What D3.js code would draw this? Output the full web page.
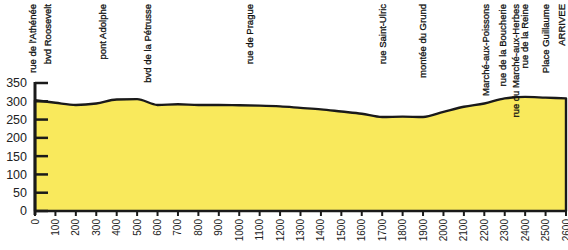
<!DOCTYPE html>
<meta charset="utf-8">
<head>
    <script src="https://d3js.org/d3.v7.min.js"></script>
    <style>
    body { margin: 0; background: white; }
    svg { display: block; background: white; }
    text { font-family: "Liberation Sans", Arial, sans-serif; fill: #222; }
    .street { font-size: 9.5px; fill: #111; stroke: #111; stroke-width: 0.3px; }
    .xlab { font-size: 10px; }
    .ylab { font-size: 12.5px; }
    </style>
</head>
<body>
    <svg id="svgid" width="568" height="250"></svg>
    <script>
        // distance along the course (m) and altitude (m)
        var distances = [0,100,200,300,400,500,600,700,800,900,1000,1100,1200,1300,
                         1400,1500,1600,1700,1800,1900,2000,2100,2200,2300,2400,2500,2600];
        var altitudes = [303,296,290,294,305,306,290,292,290,290,289,288,286,282,
                         278,272,266,257,258,257,271,285,294,308,312,310,308];

        // street names and where they sit along the course
        var streets = ["rue de l'Athénée","bvd Roosevelt","pont Adolphe","bvd de la Pétrusse",
                       "rue de Prague","rue Saint-Ulric","montée du Grund","Marché-aux-Poissons",
                       "rue de la Boucherie","rue du Marché-aux-Herbes","rue de la Reine",
                       "Place Guillaume","ARRIVEE"];
        var streetPos = [-12,62,330,550,1050,1700,1900,2208,2288,2355,2400,2502,2580];

        var xTicks = d3.range(0, 2601, 100);
        var yTicks = [0,50,100,150,200,250,300,350];

        var svg = d3.select("#svgid");

        var x = d3.scaleLinear().domain([0, 2600]).range([35, 566]);
        var y = d3.scaleLinear().domain([0, 350]).range([211, 83]);

        var data = distances.map(function(d, i) { return {d: d, a: altitudes[i]}; });

        var area = d3.area()
            .x(function(p) { return x(p.d); })
            .y0(y(0))
            .y1(function(p) { return y(p.a); })
            .curve(d3.curveMonotoneX);

        svg.append("path")
            .datum(data)
            .attr("d", area)
            .style("fill", "#f9e95c")
            .style("stroke", "#1a1a1a")
            .style("stroke-width", 2.4)
            .style("stroke-linejoin", "round");

        // x axis
        var xAxis = svg.append("g").attr("transform", "translate(0," + y(0) + ")");
        xAxis.append("line")
            .attr("x1", x(0)).attr("x2", x(2600))
            .style("stroke", "#1a1a1a").style("stroke-width", 2);
        xAxis.selectAll(".tk").data(xTicks).enter().append("line")
            .attr("x1", x).attr("x2", x).attr("y1", 0).attr("y2", 5)
            .style("stroke", "#1a1a1a").style("stroke-width", 2);
        xAxis.selectAll(".xlab").data(xTicks).enter().append("text")
            .attr("class", "xlab")
            .attr("transform", function(d) { return "translate(" + x(d) + ",8) rotate(-90)"; })
            .attr("dy", "0.35em")
            .style("text-anchor", "end")
            .text(function(d) { return d; });

        // y axis
        var yAxis = svg.append("g").attr("transform", "translate(" + x(0) + ",0)");
        yAxis.append("line")
            .attr("y1", y(350) - 1).attr("y2", y(0) + 4)
            .style("stroke", "#1a1a1a").style("stroke-width", 3);
        yAxis.selectAll(".tk").data(yTicks).enter().append("line")
            .attr("x1", 0).attr("x2", 13).attr("y1", y).attr("y2", y)
            .style("stroke", "#1a1a1a").style("stroke-width", 2.5);
        yAxis.selectAll(".ylab").data(yTicks).enter().append("text")
            .attr("class", "ylab")
            .attr("x", -8).attr("y", y)
            .attr("dy", "0.35em")
            .style("text-anchor", "end")
            .text(function(d) { return d; });

        // street labels along the top
        svg.selectAll(".street").data(streets).enter().append("text")
            .attr("class", "street")
            .attr("transform", function(d, i) { return "translate(" + x(streetPos[i]) + ",4) rotate(-90)"; })
            .attr("dy", "0.35em")
            .style("text-anchor", "end")
            .text(function(d) { return d; });
    </script>
</body>
